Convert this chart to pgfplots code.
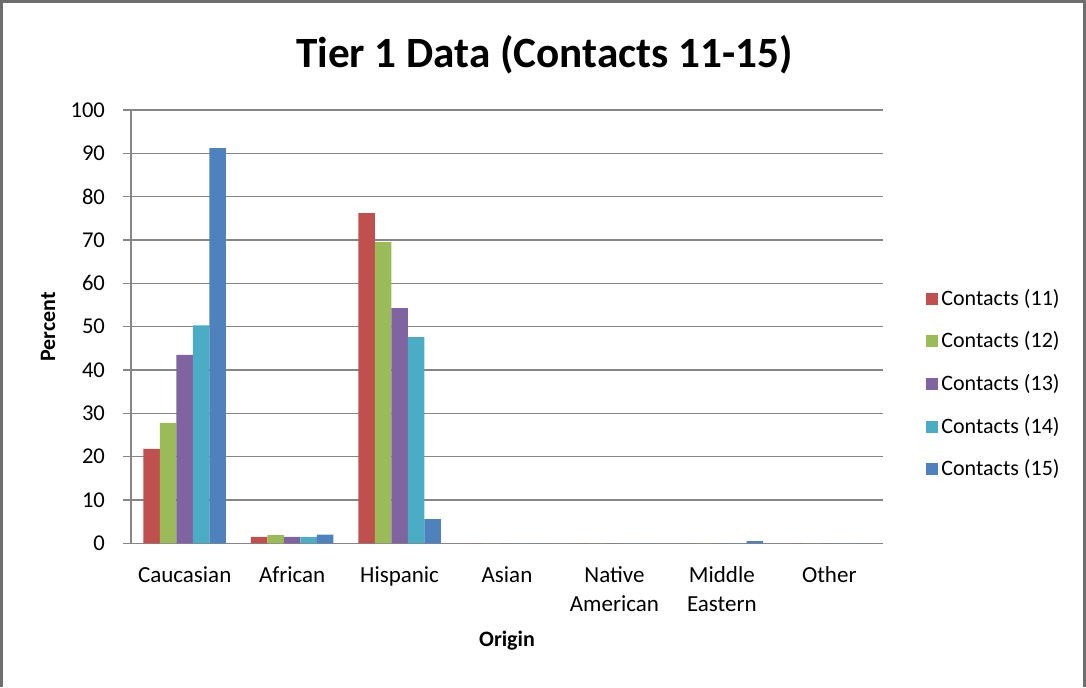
\documentclass[border=0pt]{standalone}
\usepackage{pgfplots}
\pgfplotsset{compat=1.18}
\usepackage{fontspec}
\setmainfont{Carlito}

\definecolor{cRed}{HTML}{C0504D}
\definecolor{cGreen}{HTML}{9BBB59}
\definecolor{cPurple}{HTML}{8064A2}
\definecolor{cCyan}{HTML}{4BACC6}
\definecolor{cBlue}{HTML}{4F81BD}
\definecolor{gridgray}{RGB}{134,134,134}
\definecolor{framegray}{RGB}{110,110,110}

% Origin index: 0 Caucasian, 1 African, 2 Hispanic, 3 Asian,
% 4 Native American, 5 Middle Eastern, 6 Other
\pgfplotstableread{
x c11  c12  c13  c14  c15
0 21.8 27.8 43.5 50.3 91.2
1 1.5  1.9  1.5  1.4  2.0
2 76.2 69.5 54.3 47.6 5.6
3 0    0    0    0    0
4 0    0    0    0    0
5 0    0    0    0    0.5
6 0    0    0    0    0
}\tierdata

\begin{document}
\begin{tikzpicture}[x=0.5pt,y=0.5pt]
% chart frame
\path[use as bounding box] (0,0) rectangle (1086,687);
\draw[framegray,line width=1.2pt] (1.5,0) -- (1.5,685.5) -- (1084.5,685.5) -- (1084.5,0);

\node[font=\bfseries\fontsize{21.6}{26}\selectfont] at (544.5,632) {Tier 1 Data (Contacts 11-15)};

\begin{axis}[
  at={(131pt*0.5,143.7pt*0.5)}, anchor=south west,
  scale only axis,
  width=376pt, height=216.65pt,
  ybar=0pt, bar width=0.1536,
  xmin=-0.5, xmax=6.5,
  ymin=0, ymax=100,
  ytick={0,10,...,100},
  xtick=data,
  xticklabels={Caucasian,African,Hispanic,Asian,{Native\\American},{Middle\\Eastern},Other},
  /pgf/number format/assume math mode=true,
  xticklabel style={align=center, font=\fontsize{11.5}{14.5}\selectfont, yshift=-4pt},
  yticklabel style={font=\fontsize{11.3}{13}\selectfont, xshift=-5.5pt},
  major x tick style={draw=none},
  major y tick style={gridgray, line width=0.8pt},
  tick align=outside, major tick length=4pt,
  ymajorgrids, grid style={gridgray, line width=0.8pt},
  axis x line*=bottom, axis y line*=left,
  axis line style={gridgray, line width=0.8pt, -},
  xlabel={\textbf{Origin}},
  ylabel={\textbf{Percent}},
  xlabel style={at={(axis description cs:0.5,-0.2255)}, anchor=center, font=\fontsize{11}{13}\selectfont},
  ylabel style={at={(axis description cs:-0.1104,0.4992)}, anchor=center, rotate=0, font=\fontsize{11}{13}\selectfont},
  legend style={at={(axis description cs:1.0572,0.3676)}, anchor=west, draw=none,
    inner sep=0pt, row sep=8.8pt, font=\fontsize{11}{13}\selectfont,
    nodes={inner sep=1.5pt}},
  legend cell align=left,
  legend image code/.code={\fill[#1] (0pt,-3pt) rectangle (6pt,3pt);},
  clip=false,
]
\addplot[fill=cRed, draw=none] table[x=x,y=c11] {\tierdata};
\addplot[fill=cGreen, draw=none] table[x=x,y=c12] {\tierdata};
\addplot[fill=cPurple, draw=none] table[x=x,y=c13] {\tierdata};
\addplot[fill=cCyan, draw=none] table[x=x,y=c14] {\tierdata};
\addplot[fill=cBlue, draw=none] table[x=x,y=c15] {\tierdata};
\legend{Contacts (11),Contacts (12),Contacts (13),Contacts (14),Contacts (15)}
\end{axis}
\end{tikzpicture}
\end{document}
